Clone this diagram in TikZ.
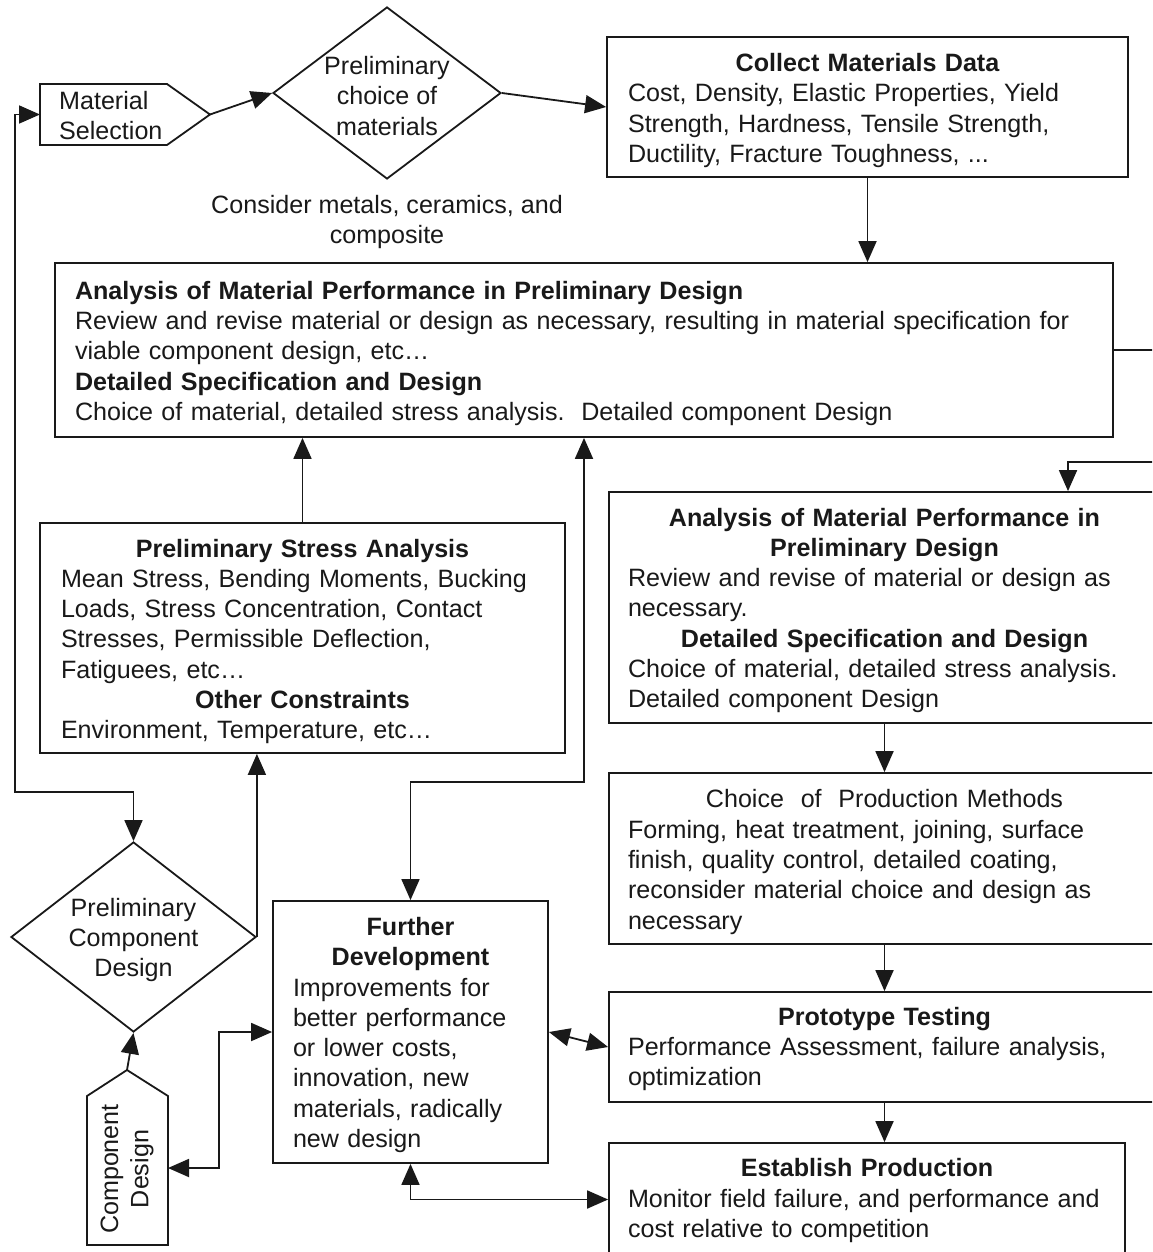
\documentclass[tikz,border=0pt]{standalone}
\usepackage{fontspec}
\setmainfont{Liberation Sans}
\usetikzlibrary{arrows.meta,shapes.geometric}
\newcommand{\ctrline}[1]{\hbox to\hsize{\hss#1\hss}}
\newcommand{\lftline}[1]{\hbox to\hsize{#1\hss}}
\newcommand{\boxtext}[2][7pt]{\vbox{\kern#1\relax #2}}
\tikzset{
  ln/.style={line width=1.8pt, draw=black!90},
  box/.style={ln, rectangle, inner ysep=0pt, font=\fontsize{25.1}{30.3}\selectfont, text=black!90},
  txt/.style={inner sep=0pt, align=center, font=\fontsize{25.1}{30.3}\selectfont, text=black!90},
  diam/.style={ln, diamond, inner sep=0pt},
  tip/.tip={Triangle[length=21pt,width=18pt]},
  arr/.style={ln, -tip},
  darr/.style={ln, tip-tip}
}
\begin{document}
\begin{tikzpicture}[x=1pt,y=-1pt]
\useasboundingbox (0,0) rectangle (1152,1252);
\fill[white] (0,0) rectangle (1152,1252);
\clip (0,0) rectangle (1152,1252);

% Material Selection
\draw[ln] (40,84) -- (167,84) -- (210,114.5) -- (167,145) -- (40,145) -- cycle;
\coordinate (msW) at (40,114.5);
\coordinate (msTip) at (210,114.5);
\node[txt, align=left, anchor=west] (mstext) at (59,115.5) {Material\\Selection};

% Preliminary choice of materials
\node[diam, minimum width=228pt, minimum height=172pt] (pcm) at (387,93) {};
\node[txt] (pcmtext) at (387,96) {Preliminary\\choice of\\materials};
\node[txt] (consider) at (387,222) {Consider metals, ceramics, and\\composite};

% Collect Materials Data
\node[box, minimum width=521pt, minimum height=140pt, text width=479pt, inner xsep=21pt] (cmd) at (867.5,107) {\boxtext{%
\ctrline{\bfseries Collect Materials Data}
\lftline{Cost, Density, Elastic Properties, Yield}
\lftline{Strength, Hardness, Tensile Strength,}
\lftline{Ductility, Fracture Toughness, ...}}};

% Big analysis box
\node[box, minimum width=1058pt, minimum height=174pt, text width=1018pt, inner xsep=20pt] (big) at (584,350) {\boxtext{%
\lftline{\bfseries Analysis of Material Performance in Preliminary Design}
\lftline{Review and revise material or design as necessary, resulting in material specification for}
\lftline{viable component design, etc…}
\lftline{\bfseries Detailed Specification and Design}
\lftline{Choice of material, detailed stress analysis.\ \ Detailed component Design}}};

% Preliminary Stress Analysis
\node[box, minimum width=525pt, minimum height=230pt, text width=483pt, inner xsep=21pt] (psa) at (302.5,638) {\boxtext{%
\ctrline{\bfseries Preliminary Stress Analysis}
\lftline{Mean Stress, Bending Moments, Bucking}
\lftline{Loads, Stress Concentration, Contact}
\lftline{Stresses, Permissible Deflection,}
\lftline{Fatiguees, etc…}
\ctrline{\bfseries Other Constraints}
\lftline{Environment, Temperature, etc…}}};

% Right analysis box
\node[box, minimum width=551pt, minimum height=231pt, text width=513pt, inner xsep=19pt] (ar) at (884.5,607.5) {\boxtext[6pt]{%
\ctrline{\bfseries Analysis of Material Performance in}
\ctrline{\bfseries Preliminary Design}
\lftline{Review and revise of material or design as}
\lftline{necessary.}
\ctrline{\bfseries Detailed Specification and Design}
\lftline{Choice of material, detailed stress analysis.}
\lftline{Detailed component Design}}};

% Choice of production methods
\node[box, minimum width=551pt, minimum height=171pt, text width=513pt, inner xsep=19pt] (ch) at (884.5,858.5) {\boxtext{%
\ctrline{Choice\ \ of\ \ Production Methods}
\lftline{Forming, heat treatment, joining, surface}
\lftline{finish, quality control, detailed coating,}
\lftline{reconsider material choice and design as}
\lftline{necessary}}};

% Prototype testing
\node[box, minimum width=551pt, minimum height=110pt, text width=513pt, inner xsep=19pt] (pt) at (884.5,1047) {\boxtext[4pt]{%
\ctrline{\bfseries Prototype Testing}
\lftline{Performance Assessment, failure analysis,}
\lftline{optimization}}};

% Establish production
\node[box, minimum width=516pt, minimum height=113pt, text width=478pt, inner xsep=19pt] (ep) at (867,1199.5) {\boxtext[2pt]{%
\ctrline{\bfseries Establish Production}
\lftline{Monitor field failure, and performance and}
\lftline{cost relative to competition}}};

% Further development
\node[box, minimum width=275pt, minimum height=262pt, text width=235pt, inner xsep=20pt] (fd) at (410.5,1032) {\boxtext[6pt]{%
\ctrline{\bfseries Further}
\ctrline{\bfseries Development}
\lftline{Improvements for}
\lftline{better performance}
\lftline{or lower costs,}
\lftline{innovation, new}
\lftline{materials, radically}
\lftline{new design}}};

% Preliminary Component Design
\node[diam, minimum width=245pt, minimum height=190pt] (pcd) at (133.5,937) {};
\node[txt] (pcdtext) at (133.5,940) {Preliminary\\Component\\Design};

% Component Design
\draw[ln] (87,1245) -- (87,1096) -- (127,1070) -- (168,1096) -- (168,1245) -- cycle;
\coordinate (cdTip) at (127,1070);
\coordinate (cdE) at (168,1168);
\node[txt, rotate=90] (cdtext) at (127,1169) {Component\\Design};

% Connectors
\draw[arr] (msTip) -- (pcm.west);
\draw[arr] (pcm.east) -- (cmd.west);
\draw[arr] (cmd.south) -- (cmd.south |- big.north);
\draw[arr] (big.east) -- (1175,350) |- (1068,462) -- ([xshift=183.5pt]ar.north);
\draw[arr] (ar.south) -- (ch.north);
\draw[arr] (ch.south) -- (pt.north);
\draw[arr] (pt.south) -- (pt.south |- ep.north);
\draw[arr] (psa.north) -- (psa.north |- big.south);
\draw[arr] (pcd.east) -- (pcd.east |- psa.south);
\draw[darr] (fd.north) -- ++(0,-118) -| (big.south);
\draw[darr] (fd.west) -- ++(-53,0) |- (cdE);
\draw[darr] (fd.east) -- (pt.west);
\draw[darr] (fd.south) |- (ep.west);
\draw[darr] (msW) -- (15,114.5) -- (15,792) -| (pcd.north);
\draw[arr] (cdTip) -- (pcd.south);
\end{tikzpicture}
\end{document}
